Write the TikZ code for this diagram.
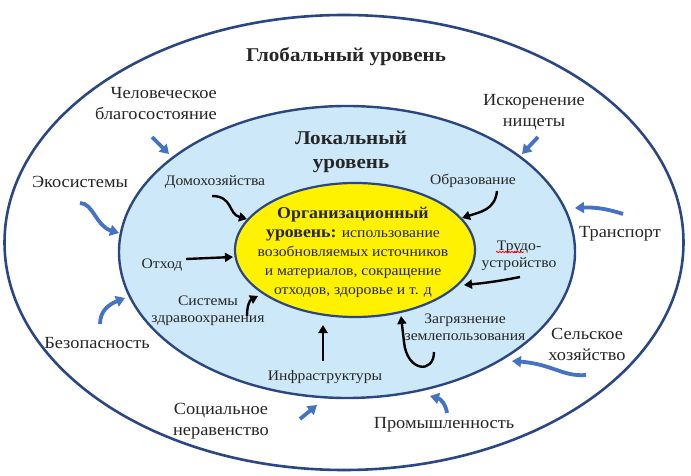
\documentclass[tikz,border=0pt]{standalone}
\usepackage{fontspec}
\setmainfont[FakeStretch=1.08]{Liberation Serif}
\usetikzlibrary{shapes.geometric,arrows.meta,decorations.pathmorphing}
\definecolor{navy}{HTML}{2A4784}
\definecolor{lblue}{HTML}{CDE8F8}
\definecolor{ablue}{HTML}{4472C4}
\definecolor{txt}{HTML}{262626}
\begin{document}
\begin{tikzpicture}[x=1pt,y=-1pt,
  level/.style={ellipse, draw=navy, inner sep=0pt, outer sep=0pt},
  title/.style={font=\bfseries\fontsize{19.5}{24}\selectfont, text=txt, align=center, inner sep=0pt},
  olab/.style={font=\fontsize{17}{21}\selectfont, text=txt, align=center, inner sep=0pt},
  ilab/.style={font=\fontsize{14.5}{17}\selectfont, text=txt, align=center, inner sep=0pt},
  barrow/.style={draw=ablue, line width=3.8pt, -{Triangle[length=9pt,width=11pt]}},
  karrow/.style={draw=black, line width=2.4pt, -{Triangle[length=8pt,width=9pt]}}]
\useasboundingbox (0,0) rectangle (691,476);
\fill[white] (0,0) rectangle (691,476);

% levels
\node[level, line width=2.6pt, minimum width=679pt, minimum height=455pt] (global) at (344,242.5) {};
\node[level, fill=lblue, line width=2.4pt, minimum width=456pt, minimum height=292pt] (local) at (347,252) {};
\node[level, fill=yellow, line width=2.2pt, minimum width=240pt, minimum height=134pt] (org) at (355,250) {};

% titles
\node[title] (gtitle) at (346,57) {Глобальный уровень};
\node[title] (ltitle) at (351,152) {Локальный\\уровень};
\node[inner sep=0pt, align=center, text=txt, font=\fontsize{14.5}{19}\selectfont] (orgtext) at (353,252)
 {{\bfseries\fontsize{16.5}{19}\selectfont Организационный}\\
  {\bfseries\fontsize{16.5}{19}\selectfont уровень:} использование\\
  возобновляемых источников\\
  и материалов, сокращение\\
  отходов, здоровье и т. д};

% outer labels
\node[olab, align=right, anchor=east] (human) at (217,104) {Человеческое\\благосостояние};
\node[olab] (poverty) at (534,112) {Искоренение\\нищеты};
\node[olab] (eco) at (80,182) {Экосистемы};
\node[olab] (transp) at (620,234) {Транспорт};
\node[olab] (safety) at (97,343) {Безопасность};
\node[olab] (agri) at (587,344) {Сельское\\хозяйство};
\node[olab] (social) at (221,421) {Социальное\\неравенство};
\node[olab] (industry) at (444,425) {Промышленность};

% inner labels
\node[ilab] (house) at (215,182) {Домохозяйства};
\node[ilab] (educ) at (473,181) {Образование};
\node[ilab] (waste) at (162,265) {Отход};
\node[ilab] (employ) at (519,256) {Трудо-\\устройство};
\node[ilab] (health) at (208,311) {Системы\\здравоохранения};
\node[ilab] (pollut) at (465,327) {Загрязнение\\землепользования};
\node[ilab] (infra) at (325,377) {Инфраструктуры};

% spell-check squiggle under "Трудо"
\draw[red, line width=0.8pt, decorate, decoration={snake, amplitude=0.7pt, segment length=3pt}] (496,252) -- (524,252);

% free ends of connectors
\coordinate (b1s) at (152,137); \coordinate (b1e) at (169,154);
\coordinate (b2s) at (538,137); \coordinate (b2e) at (522,154);
\coordinate (b3s) at (80,203);  \coordinate (b3e) at (119,233);
\coordinate (b4s) at (100,324); \coordinate (b4e) at (125,298);
\coordinate (b5s) at (623,214); \coordinate (b5e) at (575,208);
\coordinate (b6s) at (586,375); \coordinate (b6e) at (512,361);
\coordinate (b7s) at (300,419); \coordinate (b7e) at (317,405);
\coordinate (b8s) at (447,413); \coordinate (b8e) at (430,396);

\coordinate (k1s) at (212,196); \coordinate (k1e) at (247,219);
\coordinate (k2s) at (497,191); \coordinate (k2e) at (462,218);
\coordinate (k3s) at (186,259); \coordinate (k3e) at (233,257);
\coordinate (k4s) at (520,277); \coordinate (k4e) at (464,285);
\coordinate (k5s) at (247,316); \coordinate (k5e) at (258,296);
\coordinate (k6s) at (323,361); \coordinate (k6e) at (323,325);
\coordinate (k7s) at (434,352); \coordinate (k7e) at (401,316);

% blue arrows (global -> local)
\draw[barrow] (b1s) -- (b1e);
\draw[barrow] (b2s) -- (b2e);
\draw[barrow] (b3s) .. controls (93,203) and (96,226) .. (b3e);
\draw[barrow] (b4s) .. controls (100,310) and (110,304) .. (b4e);
\draw[barrow] (b5s) .. controls (608,209) and (595,207) .. (b5e);
\draw[barrow] (b6s) .. controls (563,377) and (552,364) .. (b6e);
\draw[barrow] (b7s) -- (b7e);
\draw[barrow] (b8s) .. controls (446,405) and (441,399) .. (b8e);

% black arrows (local -> organisational)
\draw[karrow] (k1s) .. controls (233,196) and (228,214) .. (k1e);
\draw[karrow] (k2s) .. controls (495,210) and (480,212) .. (k2e);
\draw[karrow] (k3s) -- (k3e);
\draw[karrow] (k4s) .. controls (500,281) and (485,283) .. (k4e);
\draw[karrow] (k5s) .. controls (247,305) and (250,300) .. (k5e);
\draw[karrow] (k6s) -- (k6e);
\draw[karrow] (k7s) .. controls (434,374) and (407,372) .. (404,342) -- (k7e);
\end{tikzpicture}
\end{document}
